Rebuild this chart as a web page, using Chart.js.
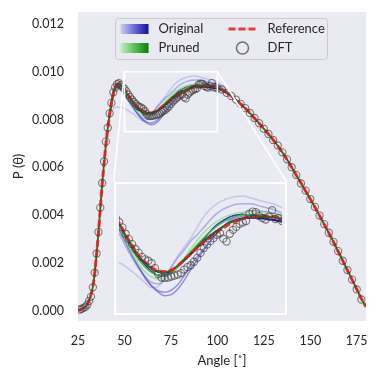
<!DOCTYPE html>
<html>
<head>
<meta charset="utf-8">
<script src="https://cdn.jsdelivr.net/npm/chart.js@4.4.1/dist/chart.umd.min.js"></script>
<style>
  html, body { margin: 0; padding: 0; background: #fff; overflow: hidden; }
  #wrap { position: relative; width: 379px; height: 380px; }
  #main { display: block; }
  #inset { position: absolute; display: block; }
</style>
</head>
<body>
<div id="wrap">
  <canvas id="main" width="379" height="380"></canvas>
  <canvas id="inset"></canvas>
</div>
<script>
// reference curve (1 deg steps on the rising edge, 2 deg after)
var refAngles = [25,26,27,28,29,30,31,32,33,34,35,36,37,38,39,40,41,42,43,44,45,46,47,48,49,50,
  52,54,56,58,60,62,64,66,68,70,72,74,76,78,80,82,84,86,88,90,92,94,96,98,100,
  102,104,106,108,110,112,114,116,118,120,122,124,126,128,130,132,134,136,138,140,
  142,144,146,148,150,152,154,156,158,160,162,164,166,168,170,172,174,176,178,180];
var refValues = [0.00003,0.00005,0.00008,0.00012,0.00018,0.00027,0.00045,0.00068,0.00102,0.00158,
  0.00238,0.00326,0.00428,0.00527,0.00615,0.00695,0.00762,0.00820,0.00870,0.00910,
  0.00936,0.00948,0.00950,0.00945,0.00937,0.00927,
  0.00903,0.00881,0.00861,0.00847,0.00836,0.00830,0.00828,0.00831,0.00840,0.00852,
  0.00864,0.00876,0.00888,0.00898,0.00908,0.00917,0.00925,0.00931,0.00936,0.00940,
  0.00941,0.00942,0.00941,0.00939,0.00935,
  0.00928,0.00919,0.00908,0.00896,0.00883,0.00869,0.00855,0.00840,0.00823,0.00806,
  0.00789,0.00771,0.00753,0.00735,0.00716,0.00696,0.00674,0.00651,0.00627,0.00601,
  0.00574,0.00548,0.00522,0.00495,0.00468,0.00441,0.00413,0.00384,0.00355,0.00326,
  0.00296,0.00265,0.00234,0.00202,0.00171,0.00139,0.00107,0.00075,0.00044,0.00018];
// best pruned model, same angles as the reference
var prunedBest = [0.00003,0.00005,0.00008,0.00012,0.00018,0.00027,0.00045,0.00068,0.00102,0.00158,
  0.00238,0.00326,0.00428,0.00527,0.00615,0.00695,0.00762,0.00820,0.00870,0.00910,
  0.00936,0.00948,0.00950,0.00945,0.00937,0.00926,
  0.00902,0.00880,0.00859,0.00845,0.00834,0.00828,0.00827,0.00831,0.00840,0.00853,
  0.00866,0.00879,0.00891,0.00902,0.00911,0.00920,0.00927,0.00933,0.00937,0.00939,
  0.00940,0.00940,0.00939,0.00938,0.00934,
  0.00928,0.00919,0.00908,0.00896,0.00883,0.00869,0.00855,0.00840,0.00823,0.00806,
  0.00789,0.00771,0.00753,0.00735,0.00716,0.00696,0.00674,0.00651,0.00627,0.00601,
  0.00574,0.00548,0.00522,0.00495,0.00468,0.00441,0.00413,0.00384,0.00355,0.00326,
  0.00296,0.00265,0.00234,0.00202,0.00171,0.00139,0.00107,0.00075,0.00044,0.00018];

// DFT points
var dftAngles = [26,27,28,29,30,31,32,33,34,35,36,37,38,39,40,41,42,43,44,45,46,47,48,49,50,
  51,52,53,54,55,56,57,58,59,60,61,62,63,64,65,66,67,68,69,70,71,72,73,74,75,
  76,77,78,79,80,81,82,83,84,85,86,87,88,89,90,91,92,93,94,95,96,97,98,99,100,
  102.5,105,107.5,110,112.5,115,117.5,120,122.5,125,127.5,130,132.5,135,137.5,140,
  142.5,145,147.5,150,152.5,155,157.5,160,162.5,165,167.5,170,172.5,175,177.5];
var dftValues = [0.00006,0.00009,0.00013,0.00017,0.00026,0.00042,0.00060,0.00099,0.00160,0.00240,
  0.00330,0.00432,0.00535,0.00625,0.00708,0.00766,0.00826,0.00870,0.00914,0.00935,
  0.00948,0.00952,0.00944,0.00937,0.00929,0.00918,0.00905,0.00894,0.00884,0.00874,
  0.00866,0.00858,0.00853,0.00850,0.00845,0.00835,0.00823,0.00816,0.00815,0.00816,
  0.00818,0.00820,0.00822,0.00825,0.00832,0.00837,0.00841,0.00848,0.00856,0.00866,
  0.00876,0.00883,0.00890,0.00896,0.00903,0.00906,0.00895,0.00889,0.00905,0.00913,
  0.00919,0.00925,0.00928,0.00931,0.00946,0.00950,0.00949,0.00941,0.00937,0.00934,
  0.00940,0.00953,0.00935,0.00937,0.00931,
  0.00926,0.00912,0.00899,0.00884,0.00866,0.00848,0.00828,0.00807,0.00785,0.00762,
  0.00740,0.00715,0.00692,0.00663,0.00634,0.00601,0.00568,0.00533,0.00503,0.00468,
  0.00435,0.00399,0.00363,0.00327,0.00289,0.00250,0.00210,0.00171,0.00131,0.00090,0.00048];

// model runs around the double peak
var zoomAngles = [42,44,46,48,50,52,54,56,58,60,62,64,66,68,70,72,74,76,78,80,
  82,84,86,88,90,92,94,96,98,100,102,104,106];
var original1 = [0.00818,0.00845,0.00852,0.00852,0.00846,0.00838,0.00828,0.00817,0.00805,0.00795,
  0.00798,0.00812,0.00838,0.00860,0.00878,0.00896,0.00918,0.00940,0.00955,0.00966,
  0.00973,0.00978,0.00981,0.00982,0.00979,0.00975,0.00971,0.00968,0.00964,0.00958,0.00948,0.00930,0.00910];
var original2 = [0.00818,0.00902,0.00930,0.00922,0.00905,0.00880,0.00856,0.00835,0.00818,0.00806,
  0.00803,0.00812,0.00836,0.00856,0.00872,0.00890,0.00903,0.00918,0.00933,0.00946,
  0.00955,0.00961,0.00965,0.00966,0.00966,0.00964,0.00960,0.00957,0.00953,0.00947,0.00937,0.00923,0.00909];
var original3 = [0.00818,0.00900,0.00935,0.00930,0.00913,0.00887,0.00860,0.00836,0.00815,0.00799,
  0.00789,0.00786,0.00790,0.00801,0.00820,0.00842,0.00858,0.00874,0.00890,0.00906,
  0.00920,0.00932,0.00941,0.00947,0.00951,0.00952,0.00951,0.00949,0.00946,0.00942,0.00933,0.00921,0.00908];
var original4 = [0.00818,0.00902,0.00938,0.00932,0.00915,0.00890,0.00864,0.00838,0.00816,0.00798,
  0.00786,0.00779,0.00781,0.00792,0.00810,0.00832,0.00852,0.00872,0.00890,0.00906,
  0.00919,0.00929,0.00936,0.00941,0.00943,0.00943,0.00942,0.00940,0.00937,0.00933,0.00927,0.00918,0.00907];
var original5 = [0.00818,0.00906,0.00945,0.00940,0.00920,0.00896,0.00875,0.00857,0.00841,0.00828,
  0.00820,0.00819,0.00825,0.00838,0.00853,0.00866,0.00880,0.00895,0.00910,0.00923,
  0.00932,0.00939,0.00943,0.00944,0.00943,0.00941,0.00938,0.00935,0.00933,0.00930,0.00924,0.00916,0.00906];
var original6 = [0.00818,0.00907,0.00946,0.00942,0.00923,0.00899,0.00878,0.00859,0.00845,0.00834,
  0.00827,0.00825,0.00829,0.00838,0.00850,0.00863,0.00876,0.00889,0.00900,0.00911,
  0.00920,0.00928,0.00933,0.00936,0.00937,0.00937,0.00936,0.00934,0.00932,0.00929,0.00924,0.00916,0.00906];
var pruned1 = [0.00818,0.00905,0.00942,0.00938,0.00918,0.00892,0.00866,0.00843,0.00827,0.00817,
  0.00813,0.00815,0.00823,0.00838,0.00856,0.00874,0.00892,0.00907,0.00920,0.00930,
  0.00938,0.00943,0.00947,0.00949,0.00950,0.00950,0.00949,0.00947,0.00944,0.00940,0.00932,0.00921,0.00909];
var pruned2 = [0.00818,0.00906,0.00945,0.00941,0.00922,0.00897,0.00873,0.00852,0.00837,0.00826,
  0.00820,0.00820,0.00826,0.00838,0.00853,0.00868,0.00883,0.00897,0.00909,0.00920,
  0.00929,0.00935,0.00940,0.00943,0.00944,0.00944,0.00943,0.00941,0.00939,0.00935,0.00928,0.00919,0.00908];

var xTicks = [25, 50, 75, 100, 125, 150, 175];
var yTicks = [0, 0.002, 0.004, 0.006, 0.008, 0.010, 0.012];
var zoomBox = { x: [50, 100], y: [0.0075, 0.0100] };
var insetAt = { x: [44.2, 137.3], y: [-0.00016, 0.0054] };

var BG = '#eaeaf2';
var TXT = '#262626';
var FONT = 'Lato';

function pts(xs, ys) {
  return xs.map(function (x, i) { return { x: x, y: ys[i] }; });
}

function line(xs, ys, color, width, order) {
  return {
    data: pts(xs, ys), borderColor: color, borderWidth: width, pointRadius: 0,
    fill: false, cubicInterpolationMode: 'monotone', order: order
  };
}

function buildSets() {
  var sets = [];
  sets.push({
    label: 'DFT', data: pts(dftAngles, dftValues), showLine: false, order: 0,
    pointRadius: 3.6, pointBorderWidth: 1.1, pointBorderColor: 'rgba(60,60,60,0.65)',
    pointBackgroundColor: 'rgba(0,0,0,0)'
  });
  var ref = line(refAngles, refValues, 'rgba(245,25,30,0.85)', 3, 1);
  ref.borderDash = [7, 3];
  ref.label = 'Reference';
  sets.push(ref);
  sets.push(line(refAngles, prunedBest, '#0a7d0a', 1.8, 2));
  sets.push(line(zoomAngles, pruned2, 'rgba(70,185,70,0.9)', 1.5, 3));
  sets.push(line(zoomAngles, pruned1, 'rgba(150,225,150,0.9)', 1.5, 4));
  sets.push(line(zoomAngles, original6, 'rgba(0,0,140,0.95)', 1.5, 5));
  sets.push(line(zoomAngles, original5, 'rgba(25,25,190,0.85)', 1.5, 6));
  sets.push(line(zoomAngles, original4, 'rgba(80,80,210,0.6)', 1.5, 7));
  sets.push(line(zoomAngles, original3, 'rgba(90,90,215,0.6)', 1.5, 8));
  sets.push(line(zoomAngles, original2, 'rgba(110,110,225,0.5)', 1.5, 9));
  sets.push(line(zoomAngles, original1, 'rgba(130,130,225,0.35)', 1.5, 10));
  return sets;
}

var plotBg = {
  id: 'plotBg',
  beforeDraw: function (chart) {
    var a = chart.chartArea, c = chart.ctx;
    c.save();
    c.fillStyle = BG;
    c.fillRect(a.left, a.top, a.right - a.left, a.bottom - a.top);
    c.restore();
  }
};

var zoomMarks = {
  id: 'zoomMarks',
  afterDatasetsDraw: function (chart) {
    var c = chart.ctx, xs = chart.scales.x, ys = chart.scales.y;
    var x1 = xs.getPixelForValue(zoomBox.x[0]), x2 = xs.getPixelForValue(zoomBox.x[1]);
    var y1 = ys.getPixelForValue(zoomBox.y[1]), y2 = ys.getPixelForValue(zoomBox.y[0]);
    var ix1 = xs.getPixelForValue(insetAt.x[0]), ix2 = xs.getPixelForValue(insetAt.x[1]);
    var iy1 = ys.getPixelForValue(insetAt.y[1]);
    c.save();
    c.strokeStyle = '#ffffff';
    c.lineWidth = 1.6;
    c.strokeRect(x1, y1, x2 - x1, y2 - y1);
    c.beginPath();
    c.moveTo(x1, y1); c.lineTo(ix1, iy1);
    c.moveTo(x2, y1); c.lineTo(ix2, iy1);
    c.stroke();
    c.restore();
  }
};

var legendBox = {
  id: 'legendBox',
  afterDraw: function (chart) {
    var c = chart.ctx, a = chart.chartArea;
    var bx = a.left + 37.5, by = a.top + 6.5, bw = 212, bh = 41;
    var r1 = by + 10.5, r2 = by + 29.5;
    c.save();
    c.beginPath();
    c.roundRect(bx, by, bw, bh, 3);
    c.fillStyle = 'rgba(234,234,242,0.85)';
    c.fill();
    c.strokeStyle = '#cccccc';
    c.lineWidth = 1;
    c.stroke();

    var px = bx + 5, pw = 28, ph = 10;
    var gb = c.createLinearGradient(px, 0, px + pw, 0);
    gb.addColorStop(0, '#ccccf2'); gb.addColorStop(0.5, '#6a6ad8'); gb.addColorStop(1, '#10109a');
    c.fillStyle = gb;
    c.fillRect(px, r1 - ph / 2, pw, ph);
    var gg = c.createLinearGradient(px, 0, px + pw, 0);
    gg.addColorStop(0, '#c6efc6'); gg.addColorStop(0.5, '#55c255'); gg.addColorStop(1, '#0a7d0a');
    c.fillStyle = gg;
    c.fillRect(px, r2 - ph / 2, pw, ph);

    c.strokeStyle = 'rgba(245,25,30,0.85)';
    c.lineWidth = 3;
    c.setLineDash([7, 3]);
    c.beginPath();
    c.moveTo(bx + 113, r1); c.lineTo(bx + 142, r1);
    c.stroke();
    c.setLineDash([]);
    c.strokeStyle = 'rgba(60,60,60,0.7)';
    c.lineWidth = 1.5;
    c.beginPath();
    c.arc(bx + 127, r2, 6, 0, Math.PI * 2);
    c.stroke();

    c.fillStyle = TXT;
    c.font = '13px ' + FONT;
    c.textBaseline = 'middle';
    c.textAlign = 'left';
    c.fillText('Original', bx + 43, r1);
    c.fillText('Pruned', bx + 43, r2);
    c.fillText('Reference', bx + 152, r1);
    c.fillText('DFT', bx + 152, r2);
    c.restore();
  }
};

var tickFont = { family: FONT, size: 12.5 };

var mainChart = new Chart(document.getElementById('main').getContext('2d'), {
  type: 'line',
  data: { datasets: buildSets() },
  options: {
    responsive: false,
    animation: false,
    layout: { padding: { top: 12, right: 13, left: 0, bottom: 0 } },
    plugins: { legend: { display: false }, tooltip: { enabled: false } },
    scales: {
      x: {
        type: 'linear', min: 25, max: 180,
        grid: { display: false, drawTicks: false }, border: { display: false },
        afterBuildTicks: function (s) { s.ticks = xTicks.map(function (v) { return { value: v }; }); },
        ticks: { padding: 12, color: TXT, font: tickFont, maxRotation: 0 },
        title: { display: true, text: 'Angle [˚]', color: TXT, font: { family: FONT, size: 13 }, padding: { top: 0, bottom: 11 } },
        afterFit: function (s) { s.height = 59; s.paddingLeft = 0; s.paddingRight = 0; }
      },
      y: {
        type: 'linear', min: -0.00042, max: 0.0125,
        grid: { display: false, drawTicks: false }, border: { display: false },
        afterBuildTicks: function (s) { s.ticks = yTicks.map(function (v) { return { value: v }; }); },
        ticks: { padding: 14, color: TXT, font: tickFont, callback: function (v) { return v.toFixed(3); } },
        title: { display: true, text: 'P (θ)', color: TXT, font: { family: FONT, size: 13 }, padding: { top: 11, bottom: 0 } },
        afterFit: function (s) { s.width = 78; s.paddingTop = 0; s.paddingBottom = 0; }
      }
    }
  },
  plugins: [plotBg, zoomMarks, legendBox]
});

// place the inset over the main axes using the main scales
var sx = mainChart.scales.x, sy = mainChart.scales.y;
var il = Math.round(sx.getPixelForValue(insetAt.x[0]));
var ir = Math.round(sx.getPixelForValue(insetAt.x[1]));
var it = Math.round(sy.getPixelForValue(insetAt.y[1]));
var ib = Math.round(sy.getPixelForValue(insetAt.y[0]));
var insetCanvas = document.getElementById('inset');
insetCanvas.width = ir - il;
insetCanvas.height = ib - it;
insetCanvas.style.left = il + 'px';
insetCanvas.style.top = it + 'px';

var insetFrame = {
  id: 'insetFrame',
  afterDraw: function (chart) {
    var c = chart.ctx;
    c.save();
    c.strokeStyle = '#ffffff';
    c.lineWidth = 2;
    c.strokeRect(1, 1, chart.width - 2, chart.height - 2);
    c.restore();
  }
};

new Chart(insetCanvas.getContext('2d'), {
  type: 'line',
  data: { datasets: buildSets() },
  options: {
    responsive: false,
    animation: false,
    layout: { padding: 0 },
    plugins: { legend: { display: false }, tooltip: { enabled: false } },
    scales: {
      x: { type: 'linear', min: zoomBox.x[0], max: zoomBox.x[1], display: false },
      y: { type: 'linear', min: zoomBox.y[0], max: zoomBox.y[1], display: false }
    }
  },
  plugins: [plotBg, insetFrame]
});
</script>
</body>
</html>
